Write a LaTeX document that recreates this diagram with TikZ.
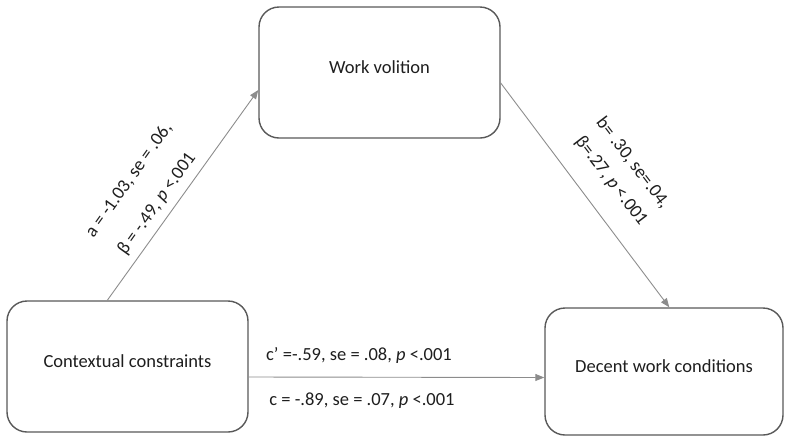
\documentclass[tikz,border=0pt]{standalone}
\usepackage{fontspec}
\setmainfont{Carlito}
\usetikzlibrary{calc,arrows.meta}
\definecolor{boxgray}{RGB}{89,89,89}
\definecolor{arrgray}{RGB}{140,140,140}
\definecolor{txt}{RGB}{30,30,30}
\begin{document}
\begin{tikzpicture}[x=1pt,y=-1pt,
  box/.style={draw=boxgray,line width=1.4pt,rounded corners=20pt,fill=white,
    text=txt,font=\fontsize{18.5}{22}\selectfont,text height=13pt,text depth=12pt},
  arr/.style={draw=arrgray,line width=0.9pt,-{Triangle[length=9pt,width=7pt]}},
  lbl/.style={font=\fontsize{18.5}{22}\selectfont,text=txt,inner sep=0pt}]
\useasboundingbox (0,0) rectangle (787,437);
\node[box,minimum width=241pt,minimum height=131pt] (wv) at (379.5,72.5) {Work volition};
\node[box,minimum width=241pt,minimum height=131pt] (cc) at (127.5,366.5) {Contextual constraints};
\node[box,minimum width=238pt,minimum height=127pt] (dwc) at (664,371.5) {Decent work conditions};
\draw[arr] ([xshift=101pt]cc.north west) -- ([yshift=-17.5pt]wv.west);
\draw[arr] ([yshift=-10.5pt]wv.east) -- ([xshift=125pt]dwc.north west);
\draw[arr] ([yshift=-10.5pt]cc.east) -- ([yshift=-6pt]dwc.west);
\node[lbl,rotate=54.5] (la1) at (129,180) {a = -1.03, se = .06,};
\node[lbl,rotate=54.5] (la2) at (157,204) {β = -.49, \textit{p} <.001};
\node[lbl,rotate=-52.6] (lb1) at (633,163) {b= .30, se=.04,};
\node[lbl,rotate=-52.6] (lb2) at (611,181) {β=.27, \textit{p} <.001};
\node[lbl] (lc1) at (359,355) {c’ =-.59, se = .08, \textit{p} <.001};
\node[lbl] (lc2) at (362,401) {c = -.89, se = .07, \textit{p} <.001};
\end{tikzpicture}
\end{document}
